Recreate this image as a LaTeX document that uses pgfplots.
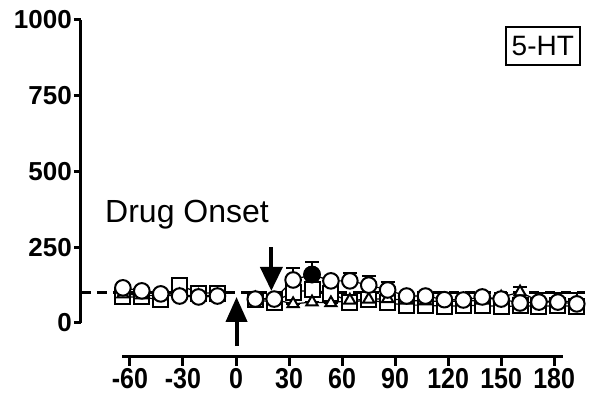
\documentclass[border=0pt]{standalone}
\usepackage{fontspec}
\setmainfont{Liberation Sans}
\usepackage{pgfplots}
\pgfplotsset{compat=1.18}
\usepackage{pgfplotstable}
\usetikzlibrary{arrows.meta}

\pgfplotstableread{
x y
-64.0 116
-53.3 106
-42.6 96
-31.9 89
-21.2 86
-10.5 89
0.2 nan
10.9 79
21.6 79
32.3 142
43.0 160
53.7 139
64.4 139
75.1 125
85.8 109
96.5 89
107.2 89
117.9 77
128.6 76
139.3 86
150.0 79
160.7 66
171.4 69
182.1 69
192.8 63
}\circdata

\pgfplotstableread{
x y e
32.3 142 39
43.0 160 40
64.4 139 27
75.1 125 30
85.8 109 26
}\circerr

\pgfplotstableread{
x y
43.0 160
}\filleddata

\pgfplotstableread{
x y
-64.0 86
-53.3 86
-42.6 76
-31.9 125
-21.2 99
-10.5 99
0.2 nan
10.9 76
21.6 69
32.3 102
43.0 109
53.7 99
64.4 69
75.1 76
85.8 66
96.5 59
107.2 59
117.9 55
128.6 57
139.3 58
150.0 54
160.7 57
171.4 55
182.1 57
192.8 55
}\sqdata

\pgfplotstableread{
x y e
-64.0 95 0
-53.3 92 0
-42.6 90 0
-31.9 92 0
-21.2 90 0
-10.5 92 0
0.2 nan 0
10.9 82 0
21.6 78 0
32.3 63 0
43.0 69 0
53.7 66 0
64.4 75 0
75.1 78 0
85.8 80 0
96.5 75 25
107.2 72 28
117.9 72 28
128.6 72 28
139.3 75 25
150.0 85 15
160.7 102 17
171.4 72 28
182.1 72 28
192.8 70 28
}\tridata

\begin{document}
\begin{tikzpicture}
\path[use as bounding box] (-81pt,-83pt) rectangle (524pt,323pt);
\begin{axis}[
  scale only axis, width=482pt, height=303pt,
  at={(0pt,0pt)}, anchor=south west,
  xmin=-87.7, xmax=185, ymin=0, ymax=1000,
  clip=false,
  unbounded coords=jump,
  hide x axis,
  axis y line*=left,
  axis line style={line width=3pt, -},
  ytick={0,250,500,750,1000},
  yticklabels={0,250,500,750,1000},
  tick align=outside,
  major tick length=7pt,
  tick style={line width=3pt, black},
  yticklabel style={font=\bfseries\fontsize{26}{26}\selectfont, inner sep=2pt},
]
\addplot[black, line width=2.5pt, dash pattern=on 10pt off 6pt] coordinates {(-87.7,100) (197.5,100)};
% squares
\addplot[black, line width=1.2pt, mark=square*, mark size=7.5pt, mark options={fill=white, draw=black, line width=2pt, solid}] table[x=x,y=y] {\sqdata};
% triangle error bars
\addplot[draw=none, mark=none, forget plot,
  error bars/.cd, y dir=plus, y explicit,
  error bar style={line width=2pt, black},
  error mark options={rotate=90, mark size=7pt, line width=2pt, black}]
  table[x=x,y=y,y error=e] {\tridata};
% triangles
\addplot[black, line width=1.2pt, mark=triangle*, mark size=6.5pt, mark options={fill=white, draw=black, line width=2pt, solid}] table[x=x,y=y] {\tridata};
% circle error bars
\addplot[draw=none, mark=none, forget plot,
  error bars/.cd, y dir=plus, y explicit,
  error bar style={line width=2pt, black},
  error mark options={rotate=90, mark size=7pt, line width=2pt, black}]
  table[x=x,y=y,y error=e] {\circerr};
% circles
\addplot[black, line width=1.2pt, mark=*, mark size=7.8pt, mark options={fill=white, draw=black, line width=2pt, solid}] table[x=x,y=y] {\circdata};
\addplot[only marks, mark=*, mark size=7.8pt, mark options={fill=black, draw=black, line width=2pt}] table[x=x,y=y] {\filleddata};
% arrows
\draw[line width=4pt, -{Triangle[width=22pt,length=24pt]}] (axis cs:20,250) -- (axis cs:20,106);
\draw[line width=4pt, -{Triangle[width=21pt,length=25pt]}] (axis cs:0.3,-76) -- (axis cs:0.3,86);
\node[anchor=base west, inner sep=0pt, font=\fontsize{32}{32}\selectfont] at (axis cs:-74.1,333) {Drug Onset};
\node[draw, line width=2.5pt, minimum width=74pt, minimum height=38pt, inner sep=0pt, font=\fontsize{28}{28}\selectfont] at (axis cs:173.6,914) {5-HT};
\end{axis}
\begin{axis}[
  scale only axis, width=441pt, height=10pt,
  at={(41pt,-34pt)}, anchor=south west,
  xmin=-64.5, xmax=185, ymin=0, ymax=1,
  hide y axis,
  axis x line*=bottom,
  axis line style={line width=3pt, -},
  xtick={-60,-30,0,30,60,90,120,150,180},
  xticklabels={-60,-30,0,30,60,90,120,150,180},
  tick align=outside,
  major tick length=9pt,
  tick style={line width=3pt, black},
  xticklabel style={font=\bfseries\fontsize{25}{25}\selectfont, yscale=1.15, inner sep=2pt},
]
\end{axis}
\end{tikzpicture}
\end{document}
